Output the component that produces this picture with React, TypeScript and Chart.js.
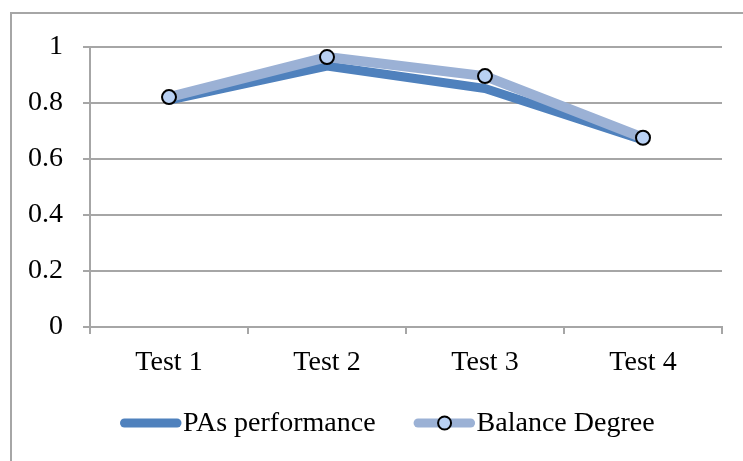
import React, { useEffect, useRef } from "react";
import { Chart, registerables } from "chart.js";

Chart.register(...registerables);

const categories = ["Test 1", "Test 2", "Test 3", "Test 4"];
const paPerformance = [0.81, 0.932, 0.852, 0.668];
const balanceDegree = [0.821, 0.964, 0.896, 0.676];
const seriesLabels = ["PAs performance", "Balance Degree"];
const yMin = 0;
const yMax = 1;
const yStep = 0.2;

const DARK = "#4F81BD";
const LIGHT = "#9BB1D5";
const MARKER_FILL = "#B9D1F4";
const GRID = "#A6A6A6";
const FONT = "'Liberation Serif', 'Times New Roman', serif";
const FONT_SIZE = 28;

function drawSample(ctx: CanvasRenderingContext2D, x: number, y: number, color: string, marker: boolean) {
  ctx.save();
  ctx.lineCap = "round";
  ctx.strokeStyle = color;
  ctx.lineWidth = 9;
  ctx.beginPath();
  ctx.moveTo(x + 4.5, y);
  ctx.lineTo(x + 57, y);
  ctx.stroke();
  if (marker) {
    ctx.beginPath();
    ctx.arc(x + 31, y, 6.5, 0, Math.PI * 2);
    ctx.fillStyle = MARKER_FILL;
    ctx.fill();
    ctx.lineWidth = 2;
    ctx.strokeStyle = "#000";
    ctx.stroke();
  }
  ctx.restore();
}

const legendPlugin = {
  id: "customLegend",
  afterDraw(chart: any) {
    const ctx: CanvasRenderingContext2D = chart.ctx;
    const y = 423;
    ctx.save();
    ctx.font = `${FONT_SIZE}px ${FONT}`;
    ctx.textBaseline = "middle";
    ctx.textAlign = "left";
    let x = chart.chartArea.left + 30;
    chart.data.datasets.forEach((ds: any, i: number) => {
      drawSample(ctx, x, y, ds.borderColor, i === 1);
      ctx.fillStyle = "#000";
      ctx.fillText(ds.label, x + 63, y + 1);
      x += 63 + ctx.measureText(ds.label).width + 38;
    });
    ctx.restore();
  },
};

export default function App() {
  const ref = useRef<HTMLCanvasElement>(null);
  useEffect(() => {
    if (!ref.current) return;
    const chart = new Chart(ref.current, {
      type: "line",
      data: {
        labels: categories,
        datasets: [
          {
            label: seriesLabels[0],
            data: paPerformance,
            borderColor: DARK,
            backgroundColor: DARK,
            borderWidth: 9,
            pointRadius: 0,
            pointHoverRadius: 0,
            borderJoinStyle: "round",
            tension: 0,
            order: 2,
          },
          {
            label: seriesLabels[1],
            data: balanceDegree,
            borderColor: LIGHT,
            backgroundColor: LIGHT,
            borderWidth: 10,
            pointRadius: 7,
            pointHoverRadius: 7,
            pointBackgroundColor: MARKER_FILL,
            pointBorderColor: "#000",
            pointBorderWidth: 2,
            borderJoinStyle: "round",
            tension: 0,
            order: 1,
          },
        ],
      },
      options: {
        responsive: false,
        animation: false,
        events: [],
        layout: { padding: { left: 0, top: 47, right: 21, bottom: 74 } },
        plugins: {
          legend: { display: false },
          tooltip: { enabled: false },
          title: { display: false },
        },
        scales: {
          x: {
            offset: true,
            afterFit: (s: any) => {
              s.height = 60;
            },
            grid: {
              offset: true,
              drawOnChartArea: false,
              drawTicks: true,
              tickLength: 7,
              color: GRID,
              lineWidth: 2,
            },
            border: { display: true, color: GRID, width: 2 },
            ticks: {
              color: "#000",
              font: { family: FONT, size: FONT_SIZE },
              padding: 12,
              maxRotation: 0,
            },
          },
          y: {
            min: yMin,
            max: yMax,
            afterFit: (s: any) => {
              s.width = 90;
            },
            grid: {
              drawTicks: true,
              tickLength: 7,
              color: GRID,
              lineWidth: 2,
            },
            border: { display: true, color: GRID, width: 2 },
            ticks: {
              stepSize: yStep,
              color: "#000",
              font: { family: FONT, size: FONT_SIZE },
              padding: 20,
              callback: (v: any) => String(Number(Number(v).toFixed(1))),
            },
          },
        },
      },
      plugins: [legendPlugin],
    });
    return () => chart.destroy();
  }, []);

  return (
    <div
      style={{
        position: "fixed",
        left: 0,
        top: 0,
        width: 743,
        height: 461,
        overflow: "hidden",
        background: "#fff",
      }}
    >
      <div
        style={{
          position: "absolute",
          left: 10,
          top: 12,
          width: 1000,
          height: 1000,
          borderLeft: `2px solid ${GRID}`,
          borderTop: `2px solid ${GRID}`,
        }}
      />
      <canvas
        ref={ref}
        width={743}
        height={461}
        style={{ position: "absolute", left: 0, top: 0, width: 743, height: 461 }}
      />
    </div>
  );
}
